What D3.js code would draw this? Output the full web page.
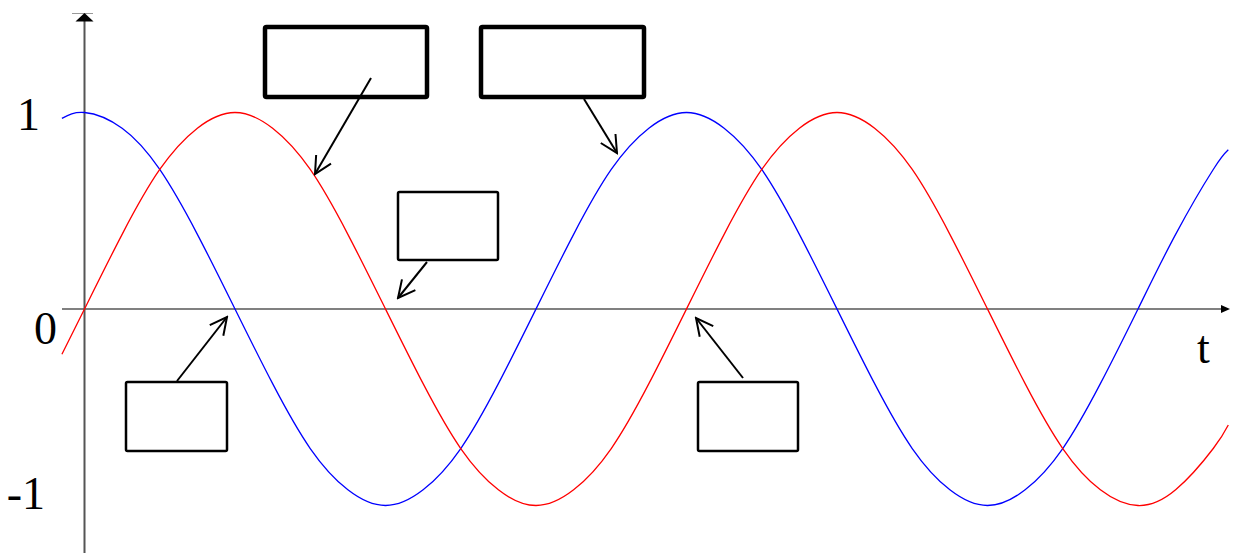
<!DOCTYPE html>
<html><head><meta charset="utf-8">
<script src="https://cdn.jsdelivr.net/npm/d3@7"></script>
<style>html,body{margin:0;padding:0;background:#fff;}svg{display:block;}</style>
</head><body>
<svg id="c" width="1234" height="553"></svg>
<script>
// phase samples (degrees)
const tDeg = [-13.5, 0, 22.5, 45, 67.5, 90, 112.5, 135, 157.5, 180, 202.5, 225, 247.5, 270, 292.5, 315, 337.5,
  360, 382.5, 405, 427.5, 450, 472.5, 495, 517.5, 540, 562.5, 585, 607.5, 630, 652.5, 675, 684];
const sineValues = [-0.23, 0, 0.38, 0.71, 0.92, 1, 0.92, 0.71, 0.38, 0, -0.38, -0.71, -0.92, -1, -0.92, -0.71, -0.38,
  0, 0.38, 0.71, 0.92, 1, 0.92, 0.71, 0.38, 0, -0.38, -0.71, -0.92, -1, -0.92, -0.71, -0.59];
const cosineValues = [0.97, 1, 0.92, 0.71, 0.38, 0, -0.38, -0.71, -0.92, -1, -0.92, -0.71, -0.38, 0, 0.38, 0.71, 0.92,
  1, 0.92, 0.71, 0.38, 0, -0.38, -0.71, -0.92, -1, -0.92, -0.71, -0.38, 0, 0.38, 0.71, 0.81];
const yTickValues = [1, 0, -1];
const yTickLabels = ["1", "0", "-1"];
const xAxisLabel = "t";

const svg = d3.select("#c");
const x = d3.scaleLinear().domain([0, 360]).range([84.5, 84.5 + 602]);
const y = d3.scaleLinear().domain([-1, 1]).range([505.5, 112.5]);

const defs = svg.append("defs");
defs.append("marker").attr("id", "open").attr("markerUnits", "userSpaceOnUse")
  .attr("viewBox", "-20 -10 22 20").attr("refX", 0).attr("refY", 0)
  .attr("markerWidth", 22).attr("markerHeight", 20).attr("orient", "auto")
  .append("path").attr("d", "M-17,-8.6 L0,0 L-17,8.6")
  .attr("fill", "none").attr("stroke", "#000").attr("stroke-width", 2);

// axes
const x0 = x(0), y0 = y(0);
svg.append("line").attr("x1", 62).attr("x2", 1224).attr("y1", y0).attr("y2", y0)
  .attr("stroke", "#808080").attr("stroke-width", 2);
svg.append("path").attr("d", `M1230,${y0} L1221,${y0-4} L1221,${y0+4} Z`).attr("fill", "#000");
svg.append("line").attr("x1", x0).attr("x2", x0).attr("y1", 18).attr("y2", 553)
  .attr("stroke", "#555").attr("stroke-width", 2);
svg.append("line").attr("x1", 72).attr("x2", 93).attr("y1", 13.5).attr("y2", 13.5)
  .attr("stroke", "#999").attr("stroke-width", 1);
svg.append("path").attr("d", `M${x0},13 L${x0+9},21.5 L${x0-9},21.5 Z`).attr("fill", "#000");

// tick labels
const labelPos = {"1": {x: 40, dy: 17.5}, "0": {x: 57, dy: 35}, "-1": {x: 45, dy: 3.5}};
svg.selectAll("text.tick").data(yTickValues).join("text").attr("class", "tick")
  .attr("x", (d, i) => labelPos[yTickLabels[i]].x)
  .attr("y", (d, i) => y(d) + labelPos[yTickLabels[i]].dy)
  .attr("text-anchor", "end")
  .attr("font-family", "'Liberation Serif','Times New Roman',serif")
  .attr("font-size", 46).attr("fill", "#000")
  .text((d, i) => yTickLabels[i]);
svg.append("text").attr("x", 1203.5).attr("y", 363).attr("text-anchor", "middle")
  .attr("font-family", "'Liberation Serif','Times New Roman',serif")
  .attr("font-size", 46).attr("fill", "#000").text(xAxisLabel);

// curves
const line = d3.line().x(d => x(d[0])).y(d => y(d[1])).curve(d3.curveNatural);
svg.append("path").attr("d", line(tDeg.map((t, i) => [t, cosineValues[i]])))
  .attr("fill", "none").attr("stroke", "#0000ff").attr("stroke-width", 1.3);
svg.append("path").attr("d", line(tDeg.map((t, i) => [t, sineValues[i]])))
  .attr("fill", "none").attr("stroke", "#ff0000").attr("stroke-width", 1.3);

// annotation boxes
const boxes = [
  {x: 265, y: 27, w: 162, h: 70, sw: 4.5},
  {x: 481, y: 27, w: 163, h: 70, sw: 4.5},
  {x: 398, y: 192, w: 100, h: 68, sw: 2.5},
  {x: 126, y: 382, w: 101, h: 69, sw: 2.5},
  {x: 698, y: 382, w: 100, h: 69, sw: 2.5}
];
svg.selectAll("rect.box").data(boxes).join("rect").attr("class", "box")
  .attr("x", d => d.x).attr("y", d => d.y).attr("width", d => d.w).attr("height", d => d.h)
  .attr("rx", 1.5).attr("fill", "none").attr("stroke", "#000").attr("stroke-width", d => d.sw);

const arrows = [
  [371, 78, 315, 174],
  [584, 99, 617, 153],
  [427, 262, 398, 298],
  [177, 381, 227, 317],
  [743, 378, 696, 318]
];
svg.selectAll("line.arr").data(arrows).join("line").attr("class", "arr")
  .attr("x1", d => d[0]).attr("y1", d => d[1]).attr("x2", d => d[2]).attr("y2", d => d[3])
  .attr("stroke", "#000").attr("stroke-width", 2).attr("marker-end", "url(#open)");
</script>
</body></html>
